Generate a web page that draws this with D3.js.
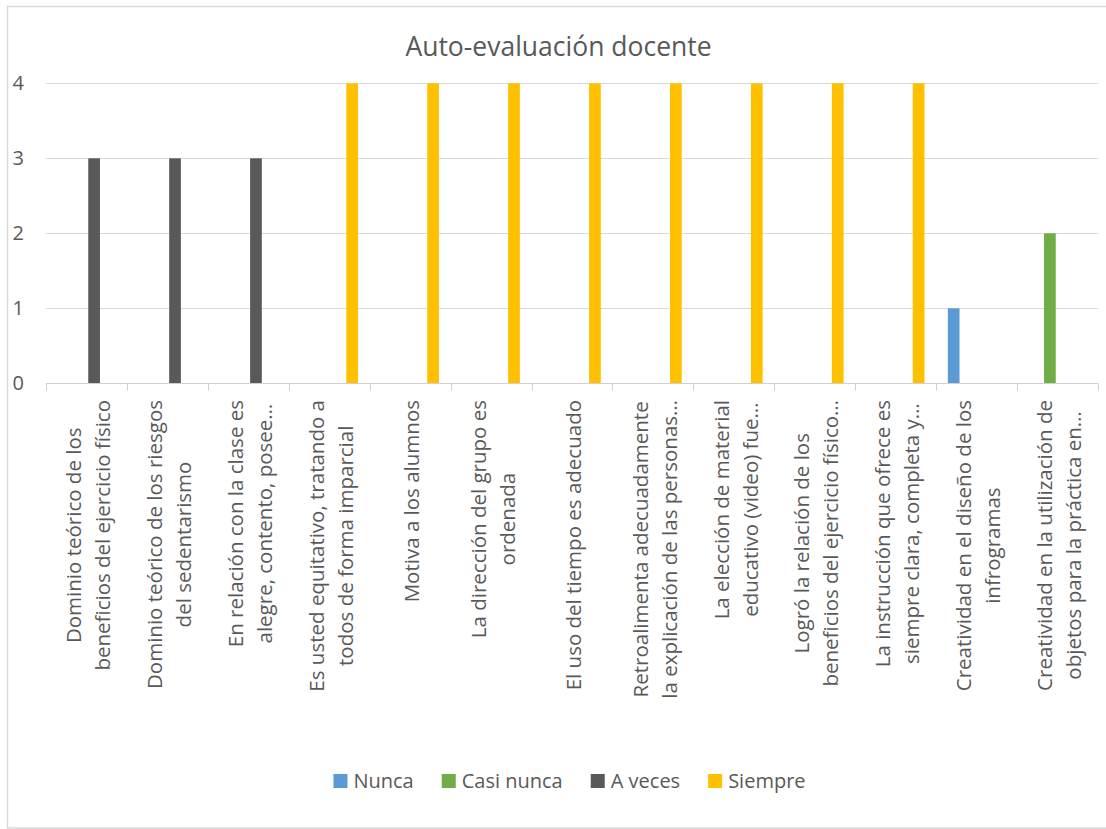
<!DOCTYPE html>
<html><head><meta charset="utf-8">
<script src="https://cdn.jsdelivr.net/npm/d3@7"></script>
<style>
html,body{margin:0;padding:0;background:#fff;}
svg{display:block;font-family:"Open Sans",sans-serif;}
</style></head>
<body>
<svg id="chart" width="1106" height="829"></svg>
<script>
const title = "Auto-evaluación docente";
const categories = [
  ["Dominio teórico de los", "beneficios del ejercicio físico"],
  ["Dominio teórico de los riesgos", "del sedentarismo"],
  ["En relación con la clase es", "alegre, contento, posee…"],
  ["Es usted equitativo, tratando a", "todos de forma imparcial"],
  ["Motiva a los alumnos"],
  ["La dirección del grupo es", "ordenada"],
  ["El uso del tiempo es adecuado"],
  ["Retroalimenta adecuadamente", "la explicación de las personas…"],
  ["La elección de material", "educativo (video) fue…"],
  ["Logró la relación de los", "beneficios del ejercicio físico…"],
  ["La instrucción que ofrece es", "siempre clara, completa y…"],
  ["Creatividad en el diseño de los", "infrogramas"],
  ["Creatividad en la utilización de", "objetos para la práctica en…"]
];
const seriesNames = ["Nunca", "Casi nunca", "A veces", "Siempre"];
const nunca     = [0,0,0,0,0,0,0,0,0,0,0,1,0];
const casiNunca = [0,0,0,0,0,0,0,0,0,0,0,0,2];
const aVeces    = [3,3,3,0,0,0,0,0,0,0,0,0,0];
const siempre   = [0,0,0,4,4,4,4,4,4,4,4,0,0];
const yTicks = [0,1,2,3,4];
const colors = ["#5B9BD5", "#70AD47", "#595959", "#FFC000"];

(function () {
const seriesValues = [nunca, casiNunca, aVeces, siempre];
const svg = d3.select("#chart");
const W = 1106;
const pLeft = 46, pRight = 1098, pTop = 83.3, pBottom = 383.3;
const txt = "#595959";

// chart border
svg.append("rect").attr("x", 7.5).attr("y", 6.5).attr("width", W + 20).attr("height", 821.5)
  .attr("fill", "none").attr("stroke", "#d9d9d9").attr("stroke-width", 1.5);

const idx = categories.map((d, i) => i);
const x0 = d3.scaleBand().domain(idx).range([pLeft, pRight]).padding(0);
const x1 = d3.scaleBand().domain(seriesNames).range([0, x0.bandwidth()])
  .paddingInner(0.235).paddingOuter(0.763);
const y = d3.scaleLinear().domain([0, 4]).range([pBottom, pTop]);

// gridlines
svg.append("g").selectAll("line").data(yTicks.filter(t => t > 0)).join("line")
  .attr("x1", pLeft).attr("x2", pRight)
  .attr("y1", d => Math.round(y(d)) + 0.5).attr("y2", d => Math.round(y(d)) + 0.5)
  .attr("stroke", "#d9d9d9").attr("stroke-width", 1);

// y labels
svg.append("g").selectAll("text").data(yTicks).join("text")
  .attr("x", 24).attr("y", d => y(d)).attr("dy", "0.35em")
  .attr("text-anchor", "end").attr("fill", txt).attr("font-size", 20)
  .text(d => d);

// bars
seriesNames.forEach((name, si) => {
  svg.append("g").selectAll("rect").data(seriesValues[si].map((v, i) => ({v, i})).filter(d => d.v > 0)).join("rect")
    .attr("x", d => x0(d.i) + x1(name))
    .attr("width", x1.bandwidth())
    .attr("y", d => y(d.v))
    .attr("height", d => y(0) - y(d.v))
    .attr("fill", colors[si]);
});

// x axis line and ticks
const axisY = Math.round(y(0)) + 0.5;
svg.append("line").attr("x1", pLeft).attr("x2", pRight).attr("y1", axisY).attr("y2", axisY)
  .attr("stroke", "#d0d0d0").attr("stroke-width", 1);
const bounds = idx.map(i => x0(i)).concat([pRight]);
svg.append("g").selectAll("line").data(bounds).join("line")
  .attr("x1", d => Math.round(d) + 0.5).attr("x2", d => Math.round(d) + 0.5)
  .attr("y1", axisY).attr("y2", axisY + 7)
  .attr("stroke", "#d0d0d0").attr("stroke-width", 1);

// x labels
const fs = 20.5, lh = 29, labelTop = 400;
const gl = svg.append("g");
categories.forEach((lines, i) => {
  const cx = x0(i) + x0.bandwidth() / 2;
  const texts = lines.map(line => gl.append("text")
    .attr("font-size", fs).attr("fill", txt).attr("text-anchor", "middle").text(line));
  const maxLen = d3.max(texts, t => t.node().getComputedTextLength());
  const yc = labelTop + maxLen / 2;
  texts.forEach((t, li) => {
    const bx = cx + (li - (lines.length - 1) / 2) * lh + 0.45 * fs;
    t.attr("transform", `translate(${bx},${yc}) rotate(-90)`);
  });
});

// title
svg.append("text").attr("x", 558.5).attr("y", 56).attr("text-anchor", "middle")
  .attr("font-size", 26.5).attr("fill", txt).text(title);

// legend
const lg = svg.append("g");
let cursor = 0;
seriesNames.forEach((name, si) => {
  const g = lg.append("g");
  g.append("rect").attr("x", 0).attr("y", 774).attr("width", 14).attr("height", 14).attr("fill", colors[si]);
  const t = g.append("text").attr("x", 20).attr("y", 781).attr("dy", "0.35em")
    .attr("font-size", 20).attr("fill", txt).text(name);
  const w = 20 + t.node().getComputedTextLength();
  g.attr("transform", `translate(${cursor},0)`);
  cursor += w + 28;
});
const totalW = cursor - 28;
lg.attr("transform", `translate(${569.5 - totalW / 2},0)`);
})();
</script>
</body></html>
